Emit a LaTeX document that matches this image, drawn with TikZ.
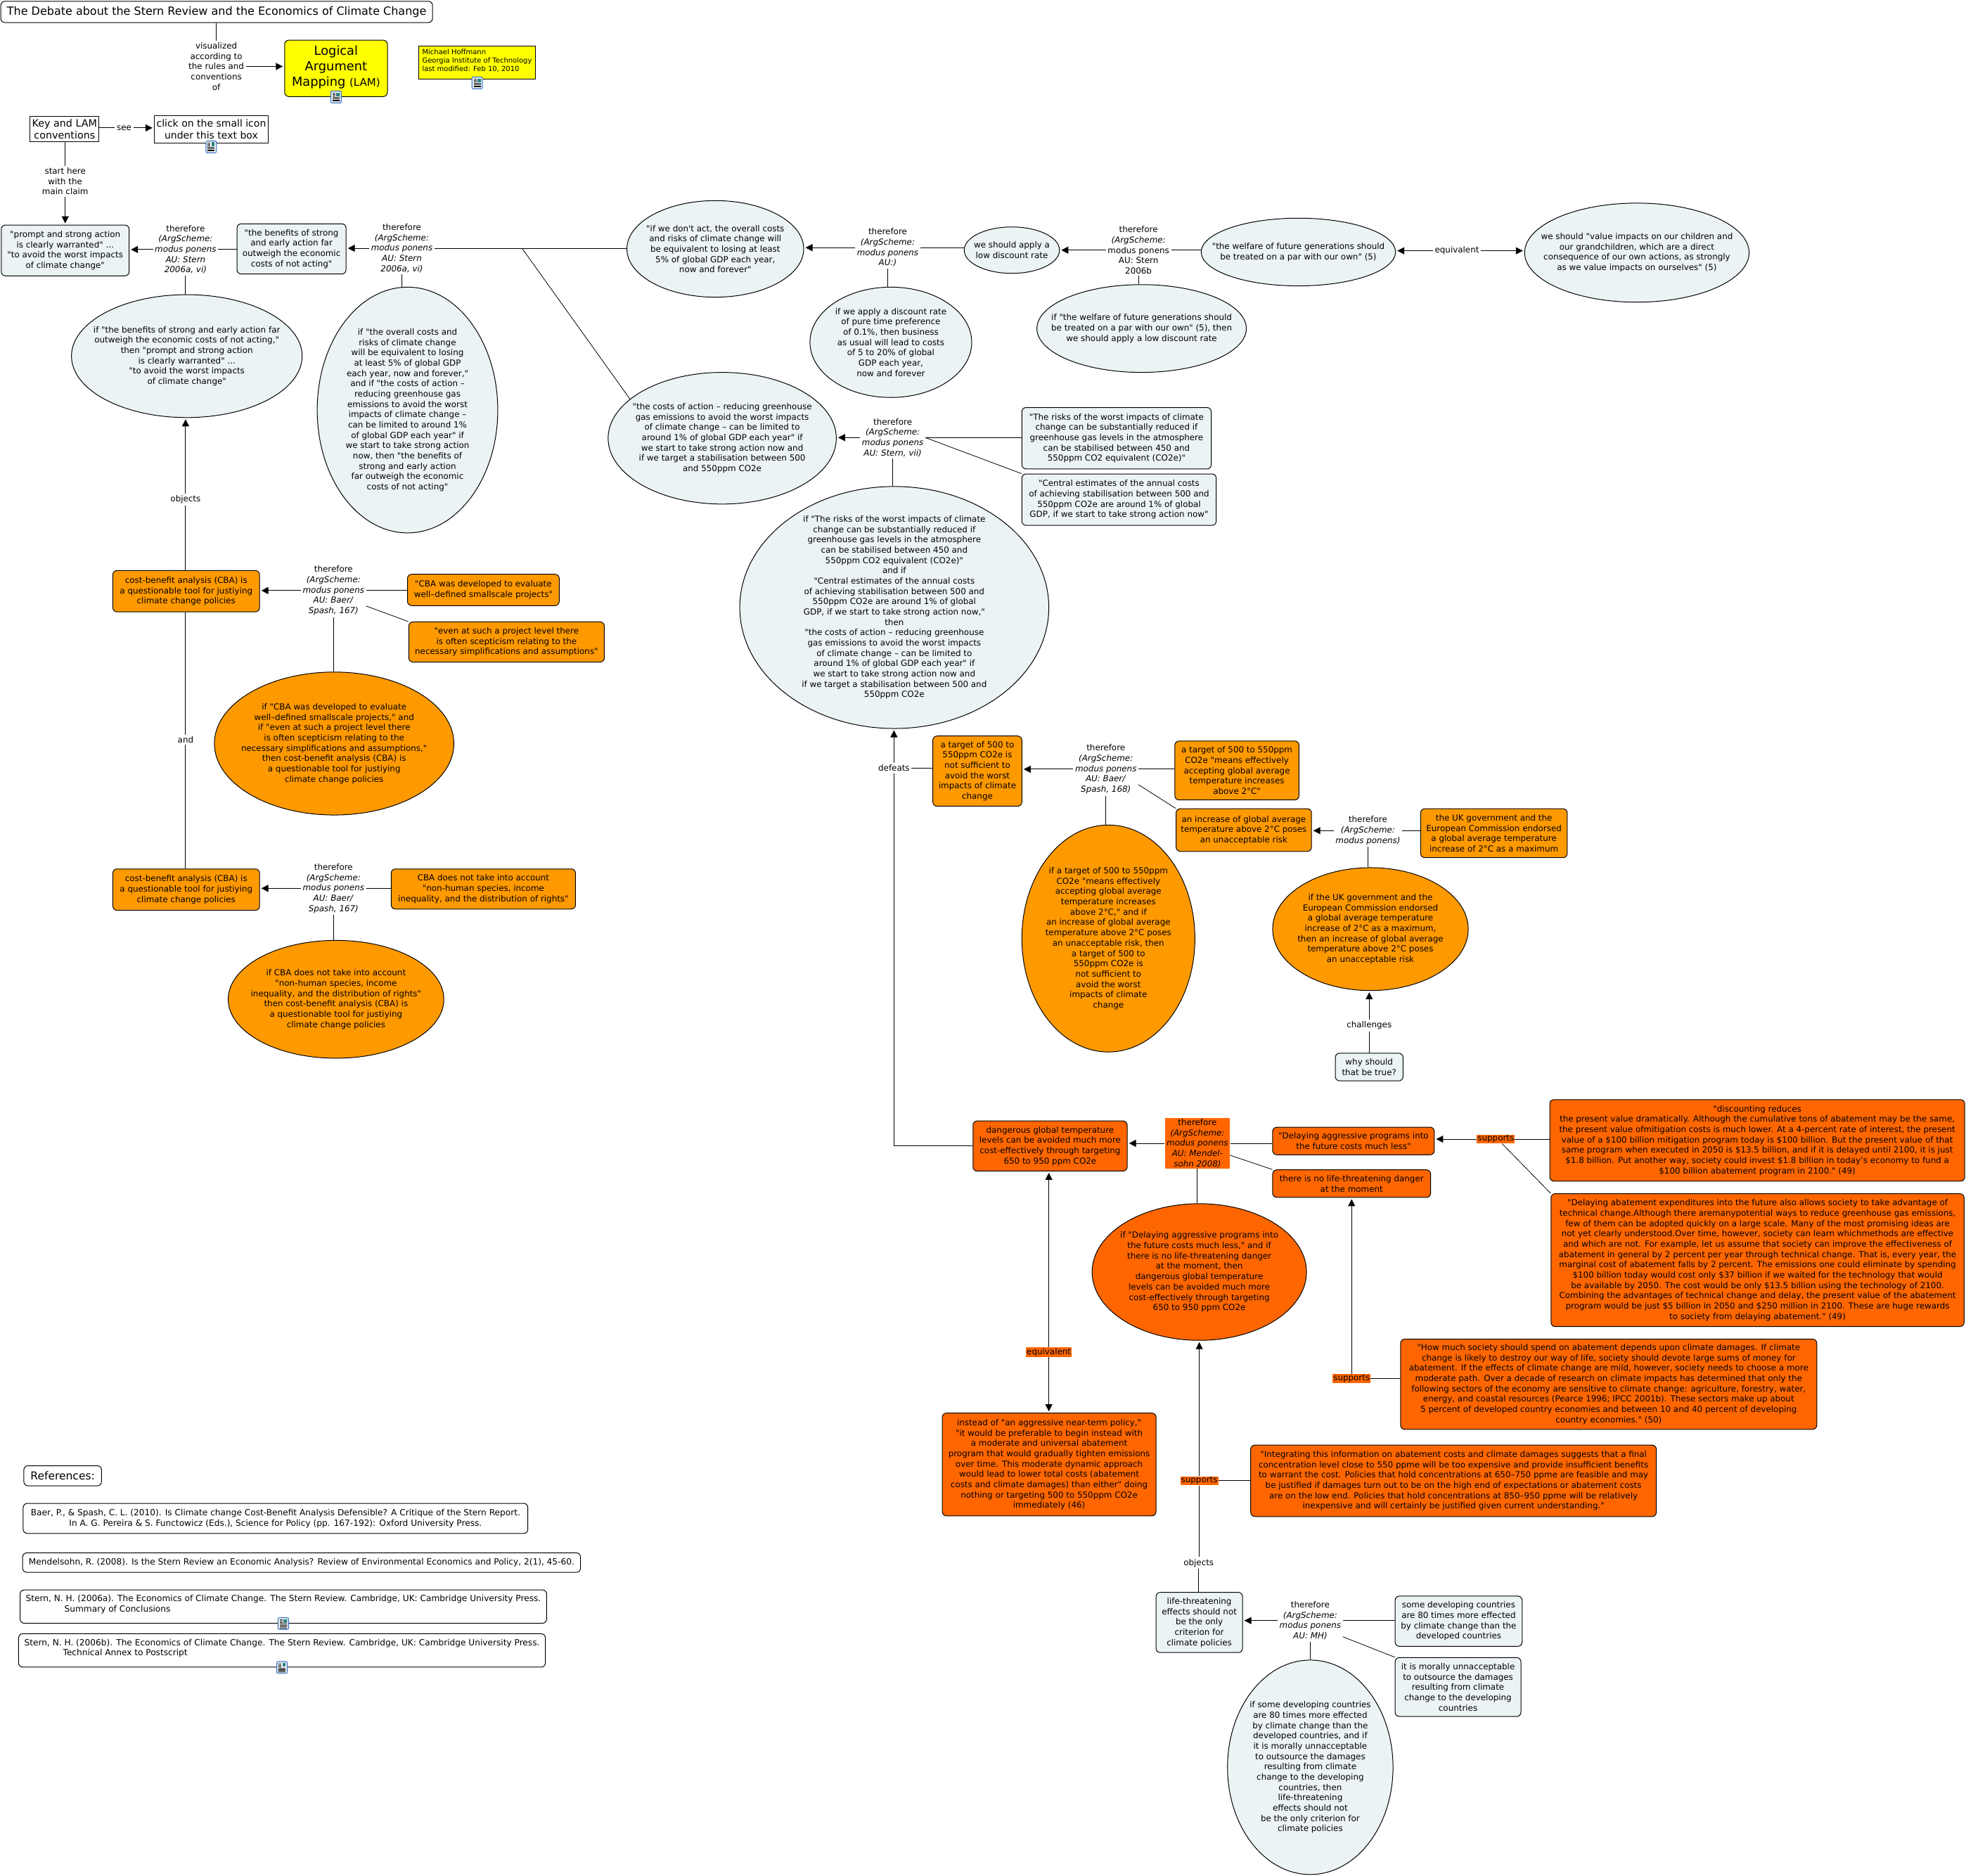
\documentclass[tikz,border=0pt]{standalone}
\usepackage{fontspec}
\setmainfont{DejaVu Sans}[Ligatures=TeXOff]
\usetikzlibrary{shapes.geometric,arrows.meta}
\definecolor{pale}{HTML}{ECF3F5}
\definecolor{amber}{HTML}{FF9900}
\definecolor{deep}{HTML}{FF6600}
\definecolor{lemon}{HTML}{FFFF00}
\definecolor{iconblue}{HTML}{3F74C0}
\definecolor{iconfill}{HTML}{CFE0F0}
\tikzset{
  base/.style={font=\fontsize{11.9}{14.67}\selectfont,align=center,inner sep=0pt},
  rbox/.style={base,rectangle,draw=black,line width=1pt,rounded corners=6pt},
  sbox/.style={base,rectangle,draw=black,line width=1pt},
  elli/.style={ellipse,draw=black,line width=1pt,inner sep=0pt},
  ptext/.style={base},
  lab/.style={base,inner sep=2.5pt},
  tagl/.style={base,fill=deep,inner sep=1pt},
  reffont/.style={font=\fontsize{12.15}{14.67}\selectfont},
  conn/.style={line width=1pt,black},
  thin conn/.style={line width=.8pt,black},
  arr/.style={conn,-{Triangle[length=10pt,width=10pt]},shorten >=2pt},
}
\newcommand\bx[7]{%
  \pgfmathsetmacro\bxw{(#5-#3)*1.7832}\pgfmathsetmacro\bxh{(#6-#4)*1.7832}%
  \node[#2,minimum width=\bxw pt,minimum height=\bxh pt] (#1) at ({(#3+#5)/2},{(#4+#6)/2}) {#7};}
\newcommand\el[7]{%
  \pgfmathsetmacro\bxw{(#5-#3)*1.7832}\pgfmathsetmacro\bxh{(#6-#4)*1.7832}%
  \node[elli,#2,minimum width=\bxw pt,minimum height=\bxh pt] (#1) at ({(#3+#5)/2},{(#4+#6)/2}) {};
  \node[ptext] (#1t) at (#1.center) {#7};}
\newcommand\docicon[2][0pt]{%
  \begin{scope}[shift={(#2)},yshift=-#1,x=1pt,y=-1pt]
    \draw[draw=iconblue,fill=iconfill,line width=1pt,rounded corners=1.5pt] (-7.5,-8.5) rectangle (7.5,8.5);
    \fill[white] (-5.5,-6.8) rectangle (5.5,6.8);
    \fill[teal!70!gray] (0.5,-6.3) rectangle (5,-1);
    \foreach \yy in {-5.5,-3.5,-1.5}{\draw[black,line width=.7pt] (-5,\yy) -- (-1,\yy);}
    \foreach \yy in {0.8,2.6,4.4,6}{\draw[black,line width=.7pt] (-5,\yy) -- (5,\yy);}
  \end{scope}}
\newcommand\tf[1]{\textit{#1}}
\begin{document}
\begin{tikzpicture}[x=1.7832pt,y=-1.7832pt]
\useasboundingbox (0,0) rectangle (1568,1496);
% ---- top
\bx{title}{rbox,font=\fontsize{16}{18}\selectfont}{0.6}{1}{345}{18}{The Debate about the Stern Review and the Economics of Climate Change}
\bx{lam}{rbox,fill=lemon,font=\fontsize{17.8}{22}\selectfont}{227}{32}{309}{77}{Logical\\Argument\\Mapping \fontsize{15}{22}\selectfont(LAM)\\[-15pt]\mbox{}}
\bx{hoff}{sbox,fill=lemon,align=left,font=\fontsize{10}{12}\selectfont}{334}{37}{427}{63}{Michael Hoffmann\\Georgia Institute of Technology\\last modified: Feb 10, 2010\\[-6pt]\mbox{}}
\node[lab] (viz) at (172.5,53) {visualized\\according to\\the rules and\\conventions\\of};
\bx{key}{sbox,font=\fontsize{14.3}{17.3}\selectfont}{24}{93}{79}{113}{Key and LAM\\conventions}
\bx{click}{sbox,font=\fontsize{14}{17.3}\selectfont}{123}{92}{214}{114}{click on the small icon\\under this text box}
\node[lab] (see) at (99,102) {see};
\node[lab] (start) at (52,144.5) {start here\\with the\\main claim};
% ---- argument 1
\bx{prompt}{rbox,fill=pale}{1}{179.5}{103}{220}{"prompt and strong action\\is clearly warranted" ...\\"to avoid the worst impacts\\of climate change"}
\node[lab] (t1) at (148,199) {therefore\\\tf{(ArgScheme:}\\\tf{modus ponens}\\\tf{AU: Stern}\\\tf{2006a, vi)}};
\bx{benefits}{rbox,fill=pale}{189}{178.5}{276}{218.5}{"the benefits of strong\\and early action far\\outweigh the economic\\costs of not acting"}
\node[lab] (t2) at (320.5,198) {therefore\\\tf{(ArgScheme:}\\\tf{modus ponens}\\\tf{AU: Stern}\\\tf{2006a, vi)}};
\el{ifben}{fill=pale}{57}{235}{241}{333}{if "the benefits of strong and early action far\\outweigh the economic costs of not acting,"\\then "prompt and strong action\\is clearly warranted" ...\\"to avoid the worst impacts\\of climate change"}
\el{ifcost}{fill=pale}{253}{229}{397}{425}{if "the overall costs and\\risks of climate change\\will be equivalent to losing\\at least 5\% of global GDP\\each year, now and forever,"\\and if "the costs of action –\\reducing greenhouse gas\\emissions to avoid the worst\\impacts of climate change –\\can be limited to around 1\%\\of global GDP each year" if\\we start to take strong action\\now, then "the benefits of\\strong and early action\\far outweigh the economic\\costs of not acting"}
\el{dontact}{fill=pale}{500}{160}{641}{237}{"if we don't act, the overall costs\\and risks of climate change will\\be equivalent to losing at least\\5\% of global GDP each year,\\now and forever"}
\node[lab] (t3) at (708,197.5) {therefore\\\tf{(ArgScheme:}\\\tf{modus ponens}\\\tf{AU:)}};
\el{lowrate}{fill=pale}{769}{181}{845}{218}{we should apply a\\low discount rate}
\el{ifrate}{fill=pale}{646}{229}{775}{317}{if we apply a discount rate\\of pure time preference\\of 0.1\%, then business\\as usual will lead to costs\\of 5 to 20\% of global\\GDP each year,\\now and forever}
\node[lab] (t4) at (908,199.5) {therefore\\\tf{(ArgScheme:}\\modus ponens\\AU: Stern\\2006b};
\el{welfare}{fill=pale}{958}{174}{1113}{228}{"the welfare of future generations should\\be treated on a par with our own" (5)}
\node[lab] (eq1) at (1162,200) {equivalent};
\el{value}{fill=pale}{1216}{162}{1395}{241}{we should "value impacts on our children and\\our grandchildren, which are a direct\\consequence of our own actions, as strongly\\as we value impacts on ourselves" (5)}
\el{ifwelf}{fill=pale}{827}{227}{994}{297}{if "the welfare of future generations should\\be treated on a par with our own" (5), then\\we should apply a low discount rate}
\el{costs}{fill=pale}{485}{297}{667}{402}{"the costs of action – reducing greenhouse\\gas emissions to avoid the worst impacts\\of climate change – can be limited to\\around 1\% of global GDP each year" if\\we start to take strong action now and\\if we target a stabilisation between 500\\and 550ppm CO2e}
\node[lab] (t5) at (712,349) {therefore\\\tf{(ArgScheme:}\\\tf{modus ponens}\\\tf{AU: Stern, vii)}};
\bx{risks}{rbox,fill=pale}{815}{325}{966}{374}{"The risks of the worst impacts of climate\\change can be substantially reduced if\\greenhouse gas levels in the atmosphere\\can be stabilised between 450 and\\550ppm CO2 equivalent (CO2e)"}
\bx{central}{rbox,fill=pale}{815}{378}{970}{419}{"Central estimates of the annual costs\\of achieving stabilisation between 500 and\\550ppm CO2e are around 1\% of global\\GDP, if we start to take strong action now"}
\el{big}{fill=pale}{590}{388}{836.5}{581}{if "The risks of the worst impacts of climate\\change can be substantially reduced if\\greenhouse gas levels in the atmosphere\\can be stabilised between 450 and\\550ppm CO2 equivalent (CO2e)"\\and if\\"Central estimates of the annual costs\\of achieving stabilisation between 500 and\\550ppm CO2e are around 1\% of global\\GDP, if we start to take strong action now,"\\then\\"the costs of action – reducing greenhouse\\gas emissions to avoid the worst impacts\\of climate change – can be limited to\\around 1\% of global GDP each year" if\\we start to take strong action now and\\if we target a stabilisation between 500 and\\550ppm CO2e}
% ---- amber right
\node[lab] (def) at (713,612.5) {defeats};
\bx{target}{rbox,fill=amber}{744}{587}{815}{643}{a target of 500 to\\550ppm CO2e is\\not sufficient to\\avoid the worst\\impacts of climate\\change}
\node[lab] (t6) at (882,613.5) {therefore\\\tf{(ArgScheme:}\\\tf{modus ponens}\\\tf{AU: Baer/}\\\tf{Spash, 168)}};
\bx{tgt2}{rbox,fill=amber}{937}{591}{1036}{638}{a target of 500 to 550ppm\\CO2e "means effectively\\accepting global average\\temperature increases\\above 2°C"}
\bx{incr}{rbox,fill=amber}{938}{645}{1046}{679}{an increase of global average\\temperature above 2°C poses\\an unacceptable risk}
\el{iftgt}{fill=amber}{815}{658}{953}{839}{if a target of 500 to 550ppm\\CO2e "means effectively\\accepting global average\\temperature increases\\above 2°C," and if\\an increase of global average\\temperature above 2°C poses\\an unacceptable risk, then\\a target of 500 to\\550ppm CO2e is\\not sufficient to\\avoid the worst\\impacts of climate\\change}
\node[lab] (t7) at (1091,662.5) {therefore\\\tf{(ArgScheme:}\\\tf{modus ponens)}};
\bx{uk}{rbox,fill=amber}{1133}{645}{1250}{684}{the UK government and the\\European Commission endorsed\\a global average temperature\\increase of 2°C as a maximum}
\el{ifuk}{fill=amber}{1015}{692}{1171}{790}{if the UK government and the\\European Commission endorsed\\a global average temperature\\increase of 2°C as a maximum,\\then an increase of global average\\temperature above 2°C poses\\an unacceptable risk}
\node[lab] (chal) at (1092,818) {challenges};
\bx{why}{rbox,fill=pale}{1065}{840}{1119}{862}{why should\\that be true?}
% ---- amber left
\node[lab] (obj1) at (148,398.5) {objects};
\bx{cba1}{rbox,fill=amber}{90}{455}{207}{488}{cost-benefit analysis (CBA) is\\a questionable tool for justiying\\climate change policies}
\node[lab] (and) at (148,590) {and};
\bx{cba2}{rbox,fill=amber}{90}{693}{207}{726}{cost-benefit analysis (CBA) is\\a questionable tool for justiying\\climate change policies}
\node[lab] (t8) at (266,471) {therefore\\\tf{(ArgScheme:}\\\tf{modus ponens}\\\tf{AU: Baer/}\\\tf{Spash, 167)}};
\bx{devd}{rbox,fill=amber}{325}{458}{446}{483}{"CBA was developed to evaluate\\well–defined smallscale projects"}
\bx{even}{rbox,fill=amber}{326}{496}{482}{528}{"even at such a project level there\\is often scepticism relating to the\\necessary simplifications and assumptions"}
\el{ifcba}{fill=amber}{171}{536}{362}{650}{if "CBA was developed to evaluate\\well–defined smallscale projects," and\\if "even at such a project level there\\is often scepticism relating to the\\necessary simplifications and assumptions,"\\then cost-benefit analysis (CBA) is\\a questionable tool for justiying\\climate change policies}
\node[lab] (t9) at (266,708.5) {therefore\\\tf{(ArgScheme:}\\\tf{modus ponens}\\\tf{AU: Baer/}\\\tf{Spash, 167)}};
\bx{nothuman}{rbox,fill=amber}{312}{693}{459}{725}{CBA does not take into account\\"non-human species, income\\inequality, and the distribution of rights"}
\el{ifnot}{fill=amber}{182}{750}{354}{844}{if CBA does not take into account\\"non-human species, income\\inequality, and the distribution of rights"\\then cost-benefit analysis (CBA) is\\a questionable tool for justiying\\climate change policies}
% ---- deep orange
\bx{dang}{rbox,fill=deep}{776}{894}{899}{934}{dangerous global temperature\\levels can be avoided much more\\cost-effectively through targeting\\650 to 950 ppm CO2e}
\bx{t10}{base,fill=deep}{929}{891.7}{981}{932}{therefore\\\tf{(ArgScheme:}\\\tf{modus ponens}\\\tf{AU: Mendel-}\\\tf{sohn 2008)}}
\bx{delay}{rbox,fill=deep}{1015}{899}{1144}{921}{"Delaying aggressive programs into\\the future costs much less"}
\bx{nolife}{rbox,fill=deep}{1015}{933}{1141}{955}{there is no life-threatening danger\\at the moment}
\el{ifdelay}{fill=deep}{871}{960}{1042}{1069}{if "Delaying aggressive programs into\\the future costs much less," and if\\there is no life-threatening danger\\at the moment, then\\dangerous global temperature\\levels can be avoided much more\\cost-effectively through targeting\\650 to 950 ppm CO2e}
\node[tagl] (sup1) at (1193,908.5) {supports};
\bx{disc}{rbox,fill=deep}{1236}{877}{1567}{942}{"discounting reduces\\the present value dramatically. Although the cumulative tons of abatement may be the same,\\the present value ofmitigation costs is much lower. At a 4-percent rate of interest, the present\\value of a \$100 billion mitigation program today is \$100 billion. But the present value of that\\same program when executed in 2050 is \$13.5 billion, and if it is delayed until 2100, it is just\\\$1.8 billion. Put another way, society could invest \$1.8 billion in today’s economy to fund a\\\$100 billion abatement program in 2100." (49)}
\bx{abate}{rbox,fill=deep}{1237}{952}{1566.5}{1058}{"Delaying abatement expenditures into the future also allows society to take advantage of\\technical change.Although there aremanypotential ways to reduce greenhouse gas emissions,\\few of them can be adopted quickly on a large scale. Many of the most promising ideas are\\not yet clearly understood.Over time, however, society can learn whichmethods are effective\\and which are not. For example, let us assume that society can improve the effectiveness of\\abatement in general by 2 percent per year through technical change. That is, every year, the\\marginal cost of abatement falls by 2 percent. The emissions one could eliminate by spending\\\$100 billion today would cost only \$37 billion if we waited for the technology that would\\be available by 2050. The cost would be only \$13.5 billion using the technology of 2100.\\Combining the advantages of technical change and delay, the present value of the abatement\\program would be just \$5 billion in 2050 and \$250 million in 2100. These are huge rewards\\to society from delaying abatement." (49)}
\bx{howm}{rbox,fill=deep}{1117}{1068}{1449}{1140}{"How much society should spend on abatement depends upon climate damages. If climate\\change is likely to destroy our way of life, society should devote large sums of money for\\abatement. If the effects of climate change are mild, however, society needs to choose a more\\moderate path. Over a decade of research on climate impacts has determined that only the\\following sectors of the economy are sensitive to climate change: agriculture, forestry, water,\\energy, and coastal resources (Pearce 1996; IPCC 2001b). These sectors make up about\\5 percent of developed country economies and between 10 and 40 percent of developing\\country economies." (50)}
\node[tagl] (sup2) at (1078,1099.5) {supports};
\bx{integ}{rbox,fill=deep}{997.5}{1152.5}{1321}{1209.5}{"Integrating this information on abatement costs and climate damages suggests that a final\\concentration level close to 550 ppme will be too expensive and provide insufficient benefits\\to warrant the cost. Policies that hold concentrations at 650–750 ppme are feasible and may\\be justified if damages turn out to be on the high end of expectations or abatement costs\\are on the low end. Policies that hold concentrations at 850–950 ppme will be relatively\\inexpensive and will certainly be justified given current understanding."}
\node[tagl] (sup3) at (956.5,1181) {supports};
\node[tagl] (eq2) at (836.5,1078.5) {equivalent};
\bx{instead}{rbox,fill=deep}{751.5}{1127}{922}{1209}{instead of "an aggressive near-term policy,"\\"it would be preferable to begin instead with\\a moderate and universal abatement\\program that would gradually tighten emissions\\over time. This moderate dynamic approach\\would lead to lower total costs (abatement\\costs and climate damages) than either" doing\\nothing or targeting 500 to 550ppm CO2e\\immediately (46)}
% ---- bottom pale
\node[lab] (obj2) at (956,1246.5) {objects};
\bx{life}{rbox,fill=pale}{922}{1270}{991}{1318}{life-threatening\\effects should not\\be the only\\criterion for\\climate policies}
\node[lab] (t11) at (1045,1292.5) {therefore\\\tf{(ArgScheme:}\\\tf{modus ponens}\\\tf{AU: MH)}};
\bx{some}{rbox,fill=pale}{1112.7}{1273}{1214}{1313}{some developing countries\\are 80 times more effected\\by climate change than the\\developed countries}
\bx{moral}{rbox,fill=pale}{1112.7}{1322}{1213}{1369}{it is morally unnacceptable\\to outsource the damages\\resulting from climate\\change to the developing\\countries}
\el{ifsome}{fill=pale}{979}{1324}{1111}{1495}{if some developing countries\\are 80 times more effected\\by climate change than the\\developed countries, and if\\it is morally unnacceptable\\to outsource the damages\\resulting from climate\\change to the developing\\countries, then\\life-threatening\\effects should not\\be the only criterion for\\climate policies}
% ---- references
\bx{refs}{rbox,font=\fontsize{15.5}{17}\selectfont}{19}{1169}{81}{1185}{References:}
\bx{baer}{rbox,reffont}{18.5}{1199}{421}{1223}{Baer, P., \& Spash, C. L. (2010). Is Climate change Cost-Benefit Analysis Defensible? A Critique of the Stern Report.\\In A. G. Pereira \& S. Functowicz (Eds.), Science for Policy (pp. 167-192): Oxford University Press.}
\bx{mend}{rbox,reffont}{18}{1238.5}{463}{1254}{Mendelsohn, R. (2008). Is the Stern Review an Economic Analysis? Review of Environmental Economics and Policy, 2(1), 45-60.}
\bx{sterna}{rbox,reffont,align=left}{16}{1268}{436}{1294.6}{Stern, N. H. (2006a). The Economics of Climate Change. The Stern Review. Cambridge, UK: Cambridge University Press.\\\hspace*{55pt}Summary of Conclusions\\[-6pt]\mbox{}}
\bx{sternb}{rbox,reffont,align=left}{14.8}{1303}{435}{1329.6}{Stern, N. H. (2006b). The Economics of Climate Change. The Stern Review. Cambridge, UK: Cambridge University Press.\\\hspace*{55pt}Technical Annex to Postscript\\[-6pt]\mbox{}}
% ---- connectors
\draw[conn] (title.south -| viz.north) -- (viz.north);
\draw[arr] (viz.east) -- (viz.east -| lam.west);
\draw[conn] (see.west -| key.east) -- (see.west);
\draw[arr] (see.east) -- (see.east -| click.west);
\draw[conn] (start.north |- key.south) -- (start.north);
\draw[arr] (start.south) -- (start.south |- prompt.north);
\draw[arr] (t1.west) -- (t1.west -| prompt.east);
\draw[conn] (t1.east) -- (t1.east -| benefits.west);
\draw[conn] (t1.south) -- (t1.south |- ifben.north);
\draw[arr] (t2.west) -- (t2.west -| benefits.east);
\draw[conn] (t2.east) -- (t2.east -| dontact.west);
\draw[conn] (t2.south) -- (t2.south |- ifcost.north);
\coordinate (brk) at (t2.east -| ifcost.east);
\coordinate (brk2) at ([xshift=34pt]brk);
\draw[thin conn] (brk2) -- (costs.157);
\draw[arr] (t3.west) -- (t3.west -| dontact.east);
\draw[conn] (t3.east) -- (t3.east -| lowrate.west);
\draw[conn] (t3.south) -- (t3.south |- ifrate.north);
\draw[arr] (t4.west) -- (t4.west -| lowrate.east);
\draw[conn] (t4.east) -- (t4.east -| welfare.west);
\draw[conn] (t4.south) -- (t4.south |- ifwelf.north);
\draw[arr] (eq1.west) -- (eq1.west -| welfare.east);
\draw[arr] (eq1.east) -- (eq1.east -| value.west);
\draw[arr] (t5.west) -- (t5.west -| costs.east);
\draw[conn] (t5.east) -- (t5.east -| risks.west);
\draw[thin conn] (t5.east) -- (central.north west);
\draw[conn] (t5.south) -- (t5.south |- big.north);
\draw[arr] (def.north) -- (def.north |- big.south);
\draw[conn] (def.east -| target.west) -- (def.east);
\draw[conn] (def.south) |- (dang.west);
\draw[arr] (t6.west) -- (t6.west -| target.east);
\draw[conn] (t6.east) -- (t6.east -| tgt2.west);
\draw[thin conn] ([yshift=-22pt]t6.east) -- (incr.north west);
\draw[conn] (t6.south) -- (t6.south |- iftgt.north);
\draw[arr] (t7.west) -- (t7.west -| incr.east);
\draw[conn] (t7.east) -- (t7.east -| uk.west);
\draw[conn] (t7.south) -- (t7.south |- ifuk.north);
\draw[arr] (chal.north) -- (chal.north |- ifuk.south);
\draw[conn] (chal.south |- why.north) -- (chal.south);
\draw[arr] (obj1.north) -- (obj1.north |- ifben.south);
\draw[conn] (obj1.south) -- (obj1.south |- cba1.north);
\draw[conn] (and.north |- cba1.south) -- (and.north);
\draw[conn] (and.south) -- (and.south |- cba2.north);
\draw[arr] (t8.west) -- (t8.west -| cba1.east);
\draw[conn] (t8.east) -- (t8.east -| devd.west);
\draw[thin conn] ([yshift=-22pt]t8.east) -- (even.north west);
\draw[conn] (t8.south) -- (t8.south |- ifcba.north);
\draw[arr] (t9.west) -- (t9.west -| cba2.east);
\draw[conn] (t9.east) -- (t9.east -| nothuman.west);
\draw[conn] (t9.south) -- (t9.south |- ifnot.north);
\draw[arr] (t10.west) -- (t10.west -| dang.east);
\draw[conn] (t10.east) -- (t10.east -| delay.west);
\draw[thin conn] ([yshift=-17pt]t10.east) -- (nolife.north west);
\draw[conn] (t10.south) -- (t10.south |- ifdelay.north);
\draw[arr] (sup1.west) -- (sup1.west -| delay.east);
\draw[conn] (sup1.east) -- (sup1.east -| disc.west);
\draw[thin conn] ([xshift=9pt]sup1.south) -- (abate.north west);
\draw[arr] (sup2.north) -- (sup2.north |- nolife.south);
\draw[conn] (sup2.east) -- (sup2.east -| howm.west);
\draw[arr] (sup3.north) -- (sup3.north |- ifdelay.south);
\draw[conn] (sup3.east) -- (sup3.east -| integ.west);
\draw[conn] (sup3.south) -- (sup3.south |- obj2.north);
\draw[conn] (obj2.south) -- (obj2.south |- life.north);
\draw[arr] (eq2.north) -- (eq2.north |- dang.south);
\draw[arr] (eq2.south) -- (eq2.south |- instead.north);
\draw[arr] (t11.west) -- (t11.west -| life.east);
\draw[conn] (t11.east) -- (t11.east -| some.west);
\draw[thin conn] ([yshift=-23pt]t11.east) -- (moral.north west);
\draw[conn] (t11.south) -- (t11.south |- ifsome.north);
% ---- icons
\docicon{lam.south}
\docicon[5pt]{hoff.south}
\docicon[5pt]{click.south}
\docicon{sterna.south}
\docicon{sternb.south}
\end{tikzpicture}
\end{document}
